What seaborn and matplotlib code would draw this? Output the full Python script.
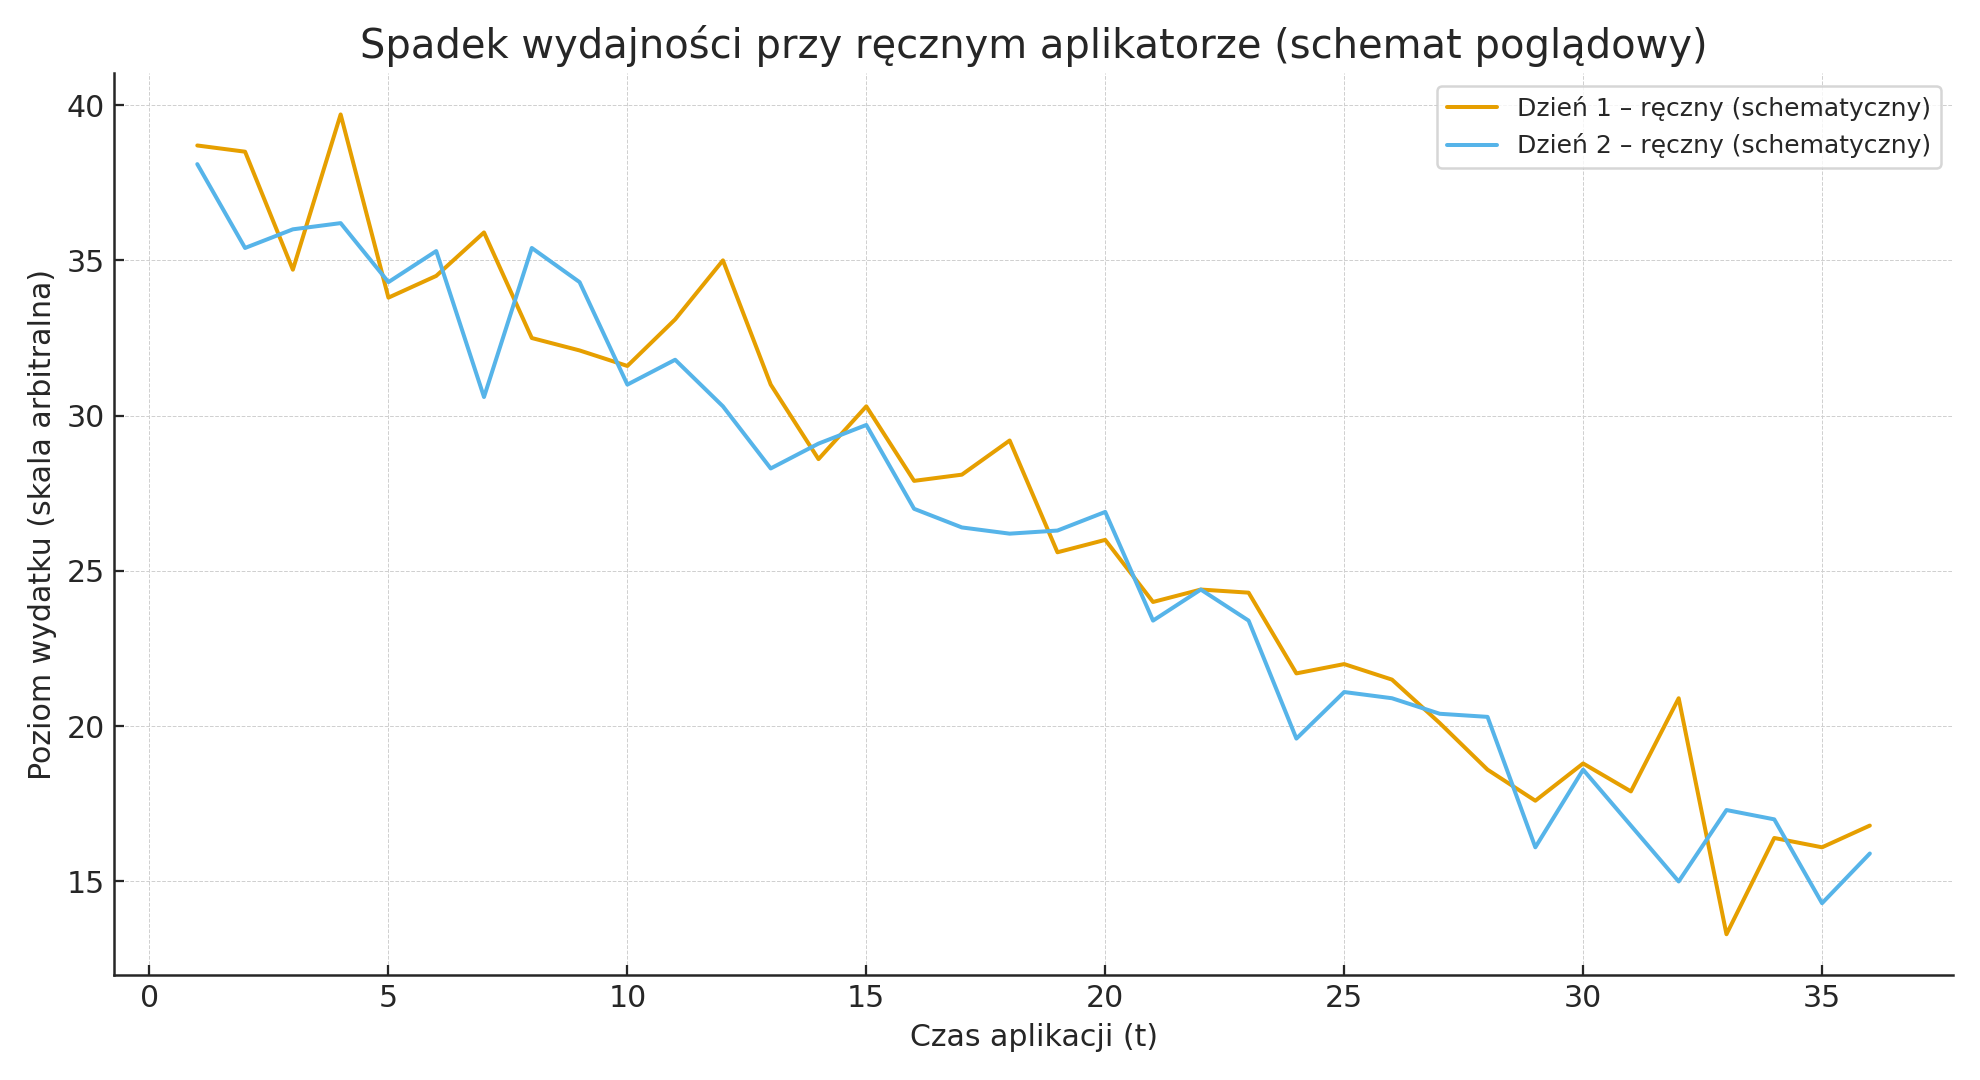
import pandas as pd
import numpy as np
import matplotlib.pyplot as plt
import seaborn as sns

t = list(range(1, 37))
day1 = [38.7, 38.5, 34.7, 39.7, 33.8, 34.5, 35.9, 32.5, 32.1, 31.6,
        33.1, 35.0, 31.0, 28.6, 30.3, 27.9, 28.1, 29.2, 25.6, 26.0,
        24.0, 24.4, 24.3, 21.7, 22.0, 21.5, 20.1, 18.6, 17.6, 18.8,
        17.9, 20.9, 13.3, 16.4, 16.1, 16.8]
day2 = [38.1, 35.4, 36.0, 36.2, 34.3, 35.3, 30.6, 35.4, 34.3, 31.0,
        31.8, 30.3, 28.3, 29.1, 29.7, 27.0, 26.4, 26.2, 26.3, 26.9,
        23.4, 24.4, 23.4, 19.6, 21.1, 20.9, 20.4, 20.3, 16.1, 18.6,
        16.8, 15.0, 17.3, 17.0, 14.3, 15.9]
labels = ["Dzień 1 – ręczny (schematyczny)", "Dzień 2 – ręczny (schematyczny)"]
colors = ["#E69F00", "#56B4E9"]

df = pd.DataFrame({
    "t": t * 2,
    "value": day1 + day2,
    "series": [labels[0]] * len(t) + [labels[1]] * len(t),
})

sns.set_theme(style="white")
plt.rcParams["font.family"] = ["DejaVu Sans"]
plt.rcParams["text.color"] = "#262626"
plt.rcParams["axes.labelcolor"] = "#262626"
plt.rcParams["xtick.color"] = "#262626"
plt.rcParams["ytick.color"] = "#262626"

fig, ax = plt.subplots(figsize=(11, 6), dpi=180)
fig.subplots_adjust(left=0.0574, right=0.9866, top=0.932, bottom=0.097)

sns.lineplot(data=df, x="t", y="value", hue="series", palette=colors,
             linewidth=1.6, ax=ax)

ax.set_title("Spadek wydajności przy ręcznym aplikatorze (schemat poglądowy)",
             fontsize=16)
ax.set_xlabel("Czas aplikacji (t)", fontsize=12)
ax.set_ylabel("Poziom wydatku (skala arbitralna)", fontsize=12)
ax.tick_params(axis="both", direction="in", labelsize=12, length=4,
               width=0.9, left=True, bottom=True)
ax.grid(True, linestyle="--", linewidth=0.4, color="#d0d0d0")
for side in ["top", "right"]:
    ax.spines[side].set_visible(False)
for side in ["left", "bottom"]:
    ax.spines[side].set_color("#262626")
    ax.spines[side].set_linewidth(1.0)

leg = ax.legend(loc="upper right", fontsize=10, frameon=True)
leg.get_frame().set_edgecolor("#cccccc")

plt.savefig("out.png", dpi=180)
